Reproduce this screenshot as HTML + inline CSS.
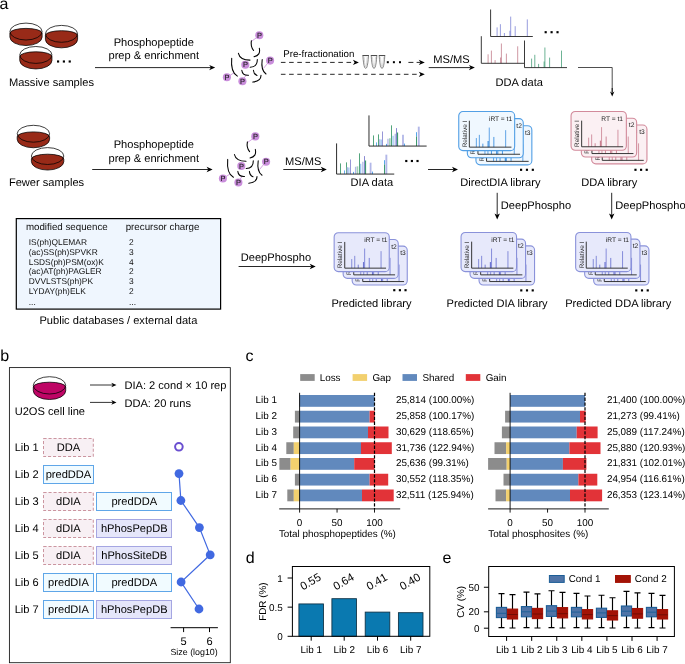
<!DOCTYPE html>
<html lang="en"><head><meta charset="utf-8"><title>DeepPhospho workflow figure</title>
<style>
html,body{margin:0;padding:0;background:#fff;}
body{width:685px;height:664px;overflow:hidden;}
svg{display:block;will-change:transform;text-rendering:geometricPrecision;font-family:"Liberation Sans", sans-serif;}
</style></head><body>
<svg width="685" height="664" viewBox="0 0 685 664">
<rect x="0" y="0" width="685" height="664" fill="#fff"/>
<text x="-0.40" y="8.90" font-size="16" text-anchor="start" fill="#000" >a</text>
<path d="M9.90,31.55 A16.1,8.45 0 0 1 42.10,31.55 V37.10 A16.1,8.45 0 0 1 9.90,37.10 Z" fill="#fff" stroke="none"/>
<path d="M9.90,33.15 A16.1,4.75 0 0 1 42.10,33.15 V37.10 A16.1,8.45 0 0 1 9.90,37.10 Z" fill="#982a18" stroke="#000" stroke-width="0.75"/>
<ellipse cx="26.00" cy="31.55" rx="16.1" ry="8.45" fill="none" stroke="#000" stroke-width="0.75"/>
<path d="M45.40,33.85 A16.1,8.45 0 0 1 77.60,33.85 V39.40 A16.1,8.45 0 0 1 45.40,39.40 Z" fill="#fff" stroke="none"/>
<path d="M45.40,35.45 A16.1,4.75 0 0 1 77.60,35.45 V39.40 A16.1,8.45 0 0 1 45.40,39.40 Z" fill="#982a18" stroke="#000" stroke-width="0.75"/>
<ellipse cx="61.50" cy="33.85" rx="16.1" ry="8.45" fill="none" stroke="#000" stroke-width="0.75"/>
<path d="M19.75,54.95 A16.1,8.45 0 0 1 51.95,54.95 V60.50 A16.1,8.45 0 0 1 19.75,60.50 Z" fill="#fff" stroke="none"/>
<path d="M19.75,56.55 A16.1,4.75 0 0 1 51.95,56.55 V60.50 A16.1,8.45 0 0 1 19.75,60.50 Z" fill="#982a18" stroke="#000" stroke-width="0.75"/>
<ellipse cx="35.85" cy="54.95" rx="16.1" ry="8.45" fill="none" stroke="#000" stroke-width="0.75"/>
<rect x="57.00" y="60.42" width="2.15" height="2.15" fill="#000"/>
<rect x="62.82" y="60.42" width="2.15" height="2.15" fill="#000"/>
<rect x="68.65" y="60.42" width="2.15" height="2.15" fill="#000"/>
<text x="8.90" y="85.80" font-size="11.1" text-anchor="start" fill="#000" >Massive samples</text>
<text x="153.80" y="45.70" font-size="11.1" text-anchor="middle" fill="#000" >Phosphopeptide</text>
<text x="153.80" y="59.00" font-size="11.1" text-anchor="middle" fill="#000" >prep &amp; enrichment</text>
<line x1="95.00" y1="67.60" x2="211.00" y2="67.60" stroke="#000" stroke-width="0.85"/>
<polygon points="215.20,67.60 209.20,70.30 210.88,67.60 209.20,64.90" fill="#000"/>
<g transform="translate(0,0)" fill="none" stroke-linecap="round">
<line x1="256.6" y1="37.7" x2="251.6" y2="41.2" stroke="#c98ddb" stroke-width="0.8"/>
<line x1="267.7" y1="63.2" x2="263.8" y2="68.0" stroke="#c98ddb" stroke-width="0.8"/>
<line x1="230.0" y1="75.4" x2="233.7" y2="73.0" stroke="#c98ddb" stroke-width="0.8"/>
<line x1="244.2" y1="77.8" x2="246.2" y2="75.2" stroke="#c98ddb" stroke-width="0.8"/>
<path d="M251.4,40.7 Q250.3,46.5 253.6,50.5" stroke="#000" stroke-width="1.05"/>
<path d="M259.3,48.2 Q260.95,55.35 254.0,56.7" stroke="#000" stroke-width="1.05"/>
<path d="M238.4,53.3 Q240.0,60.1 250.0,60.1" stroke="#000" stroke-width="1.05"/>
<path d="M231.7,58.2 Q230.45,72.25 237.4,76.1" stroke="#000" stroke-width="1.05"/>
<path d="M257.3,59.5 Q257.45,67.05 250.2,67.2" stroke="#000" stroke-width="1.05"/>
<path d="M262.2,59.5 Q260.7,70.25 266.0,74.0" stroke="#000" stroke-width="1.05"/>
<path d="M241.8,70.2 Q242.45,75.65 248.5,75.3" stroke="#000" stroke-width="1.05"/>
<path d="M253.4,70.2 Q253.8,74.35 257.0,75.5" stroke="#000" stroke-width="1.05"/>
<path d="M261.0,75.3 Q261.1,80.9 252.8,82.1" stroke="#000" stroke-width="1.05"/>
<circle cx="259.3" cy="35.2" r="4.05" fill="#c98ddb" stroke="none"/>
<text x="259.40000000000003" y="37.85" font-size="7.4" text-anchor="middle" fill="#1e1e1e" stroke="#1e1e1e" stroke-width="0.15">P</text>
<circle cx="270.1" cy="60.6" r="4.05" fill="#c98ddb" stroke="none"/>
<text x="270.20000000000005" y="63.25" font-size="7.4" text-anchor="middle" fill="#1e1e1e" stroke="#1e1e1e" stroke-width="0.15">P</text>
<circle cx="245.3" cy="64.8" r="4.05" fill="#c98ddb" stroke="none"/>
<text x="245.4" y="67.45" font-size="7.4" text-anchor="middle" fill="#1e1e1e" stroke="#1e1e1e" stroke-width="0.15">P</text>
<circle cx="226.9" cy="77.3" r="4.05" fill="#c98ddb" stroke="none"/>
<text x="227.0" y="79.95" font-size="7.4" text-anchor="middle" fill="#1e1e1e" stroke="#1e1e1e" stroke-width="0.15">P</text>
<circle cx="242.4" cy="81.3" r="4.05" fill="#c98ddb" stroke="none"/>
<text x="242.5" y="83.95" font-size="7.4" text-anchor="middle" fill="#1e1e1e" stroke="#1e1e1e" stroke-width="0.15">P</text>
</g>
<text x="283.30" y="57.00" font-size="9.7" text-anchor="start" fill="#000" >Pre-fractionation</text>
<line x1="280.90" y1="62.40" x2="354.70" y2="62.40" stroke="#000" stroke-width="0.85" stroke-dasharray="4.6 3.6"/>
<polygon points="358.90,62.40 352.90,65.00 354.58,62.40 352.90,59.80" fill="#000"/>
<line x1="280.90" y1="74.30" x2="420.60" y2="74.30" stroke="#000" stroke-width="0.85" stroke-dasharray="4.6 3.6"/>
<polygon points="424.80,74.30 418.80,76.90 420.48,74.30 418.80,71.70" fill="#000"/>
<line x1="408.40" y1="62.40" x2="420.60" y2="62.40" stroke="#000" stroke-width="0.85" stroke-dasharray="5.0 3.2"/>
<polygon points="424.80,62.40 418.80,65.00 420.48,62.40 418.80,59.80" fill="#000"/>
<path d="M362.90000000000003,55.6 C363.20000000000005,61 363.8,65.5 364.70000000000005,67.6 Q365.70000000000005,69 366.70000000000005,67.6 C367.6,65.5 368.20000000000005,61 368.5,55.6 Z" fill="#fff" stroke="#555" stroke-width="0.7"/>
<path d="M364.20000000000005,57.2 C364.40000000000003,61 364.8,64.5 365.3,66.3 Q365.70000000000005,67 366.1,66.3 C366.6,64.5 367.0,61 367.20000000000005,57.2" fill="none" stroke="#aaa" stroke-width="0.5"/>
<line x1="362.5" y1="55.5" x2="368.90000000000003" y2="55.5" stroke="#444" stroke-width="0.9"/>
<path d="M371.2,55.6 C371.5,61 372.09999999999997,65.5 373.0,67.6 Q374.0,69 375.0,67.6 C375.9,65.5 376.5,61 376.79999999999995,55.6 Z" fill="#fff" stroke="#555" stroke-width="0.7"/>
<path d="M372.5,57.2 C372.7,61 373.09999999999997,64.5 373.59999999999997,66.3 Q374.0,67 374.4,66.3 C374.9,64.5 375.29999999999995,61 375.5,57.2" fill="none" stroke="#aaa" stroke-width="0.5"/>
<line x1="370.79999999999995" y1="55.5" x2="377.2" y2="55.5" stroke="#444" stroke-width="0.9"/>
<path d="M379.2,55.6 C379.5,61 380.09999999999997,65.5 381.0,67.6 Q382.0,69 383.0,67.6 C383.9,65.5 384.5,61 384.79999999999995,55.6 Z" fill="#fff" stroke="#555" stroke-width="0.7"/>
<path d="M380.5,57.2 C380.7,61 381.09999999999997,64.5 381.59999999999997,66.3 Q382.0,67 382.4,66.3 C382.9,64.5 383.29999999999995,61 383.5,57.2" fill="none" stroke="#aaa" stroke-width="0.5"/>
<line x1="378.79999999999995" y1="55.5" x2="385.2" y2="55.5" stroke="#444" stroke-width="0.9"/>
<rect x="386.80" y="61.20" width="2.0" height="2.0" fill="#000"/>
<rect x="392.90" y="61.20" width="2.0" height="2.0" fill="#000"/>
<rect x="399.00" y="61.20" width="2.0" height="2.0" fill="#000"/>
<text x="451.50" y="62.80" font-size="11.1" text-anchor="middle" fill="#000" >MS/MS</text>
<line x1="428.70" y1="67.60" x2="470.70" y2="67.60" stroke="#000" stroke-width="0.85"/>
<polygon points="474.90,67.60 468.90,70.30 470.58,67.60 468.90,64.90" fill="#000"/>
<line x1="497.10" y1="27.40" x2="497.10" y2="36.50" stroke="#8c92da" stroke-width="0.9"/>
<line x1="500.40" y1="24.20" x2="500.40" y2="36.50" stroke="#8c92da" stroke-width="0.9"/>
<line x1="504.40" y1="33.00" x2="504.40" y2="36.50" stroke="#8c92da" stroke-width="0.9"/>
<line x1="510.00" y1="30.80" x2="510.00" y2="36.50" stroke="#8c92da" stroke-width="1.1"/>
<line x1="510.70" y1="16.60" x2="510.70" y2="36.50" stroke="#8c92da" stroke-width="0.9"/>
<line x1="515.20" y1="26.20" x2="515.20" y2="36.50" stroke="#8c92da" stroke-width="0.9"/>
<line x1="527.30" y1="19.40" x2="527.30" y2="36.50" stroke="#8c92da" stroke-width="0.9"/>
<path d="M490.60,9.50 V36.50 H532.80" fill="none" stroke="#222" stroke-width="0.9"/>
<line x1="488.10" y1="54.30" x2="488.10" y2="63.30" stroke="#ca8c99" stroke-width="0.9"/>
<line x1="491.40" y1="50.60" x2="491.40" y2="63.30" stroke="#ca8c99" stroke-width="0.9"/>
<line x1="495.10" y1="60.10" x2="495.10" y2="63.30" stroke="#ca8c99" stroke-width="0.9"/>
<line x1="500.70" y1="57.50" x2="500.70" y2="63.30" stroke="#ca8c99" stroke-width="1.1"/>
<line x1="501.40" y1="43.50" x2="501.40" y2="63.30" stroke="#ca8c99" stroke-width="0.9"/>
<line x1="506.40" y1="53.60" x2="506.40" y2="63.30" stroke="#ca8c99" stroke-width="0.9"/>
<line x1="517.70" y1="46.30" x2="517.70" y2="63.30" stroke="#ca8c99" stroke-width="0.9"/>
<path d="M481.30,36.20 V63.30 H524.20" fill="none" stroke="#222" stroke-width="0.9"/>
<line x1="531.60" y1="58.60" x2="531.60" y2="67.60" stroke="#5caa89" stroke-width="0.9"/>
<line x1="534.80" y1="54.80" x2="534.80" y2="67.60" stroke="#5caa89" stroke-width="0.9"/>
<line x1="538.60" y1="63.90" x2="538.60" y2="67.60" stroke="#5caa89" stroke-width="0.9"/>
<line x1="544.20" y1="61.50" x2="544.20" y2="67.60" stroke="#5caa89" stroke-width="1.1"/>
<line x1="544.90" y1="47.50" x2="544.90" y2="67.60" stroke="#5caa89" stroke-width="0.9"/>
<line x1="549.60" y1="57.60" x2="549.60" y2="67.60" stroke="#5caa89" stroke-width="0.9"/>
<line x1="561.50" y1="50.60" x2="561.50" y2="67.60" stroke="#5caa89" stroke-width="0.9"/>
<path d="M524.50,40.50 V67.60 H567.00" fill="none" stroke="#222" stroke-width="0.9"/>
<rect x="544.60" y="31.13" width="2.15" height="2.15" fill="#000"/>
<rect x="550.52" y="31.13" width="2.15" height="2.15" fill="#000"/>
<rect x="556.45" y="31.13" width="2.15" height="2.15" fill="#000"/>
<text x="519.20" y="85.80" font-size="11.1" text-anchor="middle" fill="#000" >DDA data</text>
<path d="M578,67.5 H612.2 V92" fill="none" stroke="#222" stroke-width="0.8"/>
<line x1="612.20" y1="88.00" x2="612.20" y2="93.10" stroke="#000" stroke-width="0.85"/>
<polygon points="612.20,96.60 610.00,91.60 612.20,93.00 614.40,91.60" fill="#000"/>
<path d="M17.20,133.75 A16.2,8.45 0 0 1 49.60,133.75 V139.30 A16.2,8.45 0 0 1 17.20,139.30 Z" fill="#fff" stroke="none"/>
<path d="M17.20,136.75 A16.2,4.85 0 0 1 49.60,136.75 V139.30 A16.2,8.45 0 0 1 17.20,139.30 Z" fill="#982a18" stroke="#000" stroke-width="0.75"/>
<ellipse cx="33.40" cy="133.75" rx="16.2" ry="8.45" fill="none" stroke="#000" stroke-width="0.75"/>
<path d="M31.40,156.05 A16.2,8.45 0 0 1 63.80,156.05 V161.60 A16.2,8.45 0 0 1 31.40,161.60 Z" fill="#fff" stroke="none"/>
<path d="M31.40,159.05 A16.2,4.85 0 0 1 63.80,159.05 V161.60 A16.2,8.45 0 0 1 31.40,161.60 Z" fill="#982a18" stroke="#000" stroke-width="0.75"/>
<ellipse cx="47.60" cy="156.05" rx="16.2" ry="8.45" fill="none" stroke="#000" stroke-width="0.75"/>
<text x="8.90" y="185.80" font-size="11.1" text-anchor="start" fill="#000" >Fewer samples</text>
<text x="153.80" y="148.20" font-size="11.1" text-anchor="middle" fill="#000" >Phosphopeptide</text>
<text x="153.80" y="161.80" font-size="11.1" text-anchor="middle" fill="#000" >prep &amp; enrichment</text>
<line x1="92.20" y1="169.50" x2="208.40" y2="169.50" stroke="#000" stroke-width="0.85"/>
<polygon points="212.60,169.50 206.60,172.20 208.28,169.50 206.60,166.80" fill="#000"/>
<g transform="translate(-4,101.2)" fill="none" stroke-linecap="round">
<line x1="256.6" y1="37.7" x2="251.6" y2="41.2" stroke="#c98ddb" stroke-width="0.8"/>
<line x1="267.7" y1="63.2" x2="263.8" y2="68.0" stroke="#c98ddb" stroke-width="0.8"/>
<line x1="230.0" y1="75.4" x2="233.7" y2="73.0" stroke="#c98ddb" stroke-width="0.8"/>
<line x1="244.2" y1="77.8" x2="246.2" y2="75.2" stroke="#c98ddb" stroke-width="0.8"/>
<path d="M251.4,40.7 Q250.3,46.5 253.6,50.5" stroke="#000" stroke-width="1.05"/>
<path d="M259.3,48.2 Q260.95,55.35 254.0,56.7" stroke="#000" stroke-width="1.05"/>
<path d="M238.4,53.3 Q240.0,60.1 250.0,60.1" stroke="#000" stroke-width="1.05"/>
<path d="M231.7,58.2 Q230.45,72.25 237.4,76.1" stroke="#000" stroke-width="1.05"/>
<path d="M257.3,59.5 Q257.45,67.05 250.2,67.2" stroke="#000" stroke-width="1.05"/>
<path d="M262.2,59.5 Q260.7,70.25 266.0,74.0" stroke="#000" stroke-width="1.05"/>
<path d="M241.8,70.2 Q242.45,75.65 248.5,75.3" stroke="#000" stroke-width="1.05"/>
<path d="M253.4,70.2 Q253.8,74.35 257.0,75.5" stroke="#000" stroke-width="1.05"/>
<path d="M261.0,75.3 Q261.1,80.9 252.8,82.1" stroke="#000" stroke-width="1.05"/>
<circle cx="259.3" cy="35.2" r="4.05" fill="#c98ddb" stroke="none"/>
<text x="259.40000000000003" y="37.85" font-size="7.4" text-anchor="middle" fill="#1e1e1e" stroke="#1e1e1e" stroke-width="0.15">P</text>
<circle cx="270.1" cy="60.6" r="4.05" fill="#c98ddb" stroke="none"/>
<text x="270.20000000000005" y="63.25" font-size="7.4" text-anchor="middle" fill="#1e1e1e" stroke="#1e1e1e" stroke-width="0.15">P</text>
<circle cx="245.3" cy="64.8" r="4.05" fill="#c98ddb" stroke="none"/>
<text x="245.4" y="67.45" font-size="7.4" text-anchor="middle" fill="#1e1e1e" stroke="#1e1e1e" stroke-width="0.15">P</text>
<circle cx="226.9" cy="77.3" r="4.05" fill="#c98ddb" stroke="none"/>
<text x="227.0" y="79.95" font-size="7.4" text-anchor="middle" fill="#1e1e1e" stroke="#1e1e1e" stroke-width="0.15">P</text>
<circle cx="242.4" cy="81.3" r="4.05" fill="#c98ddb" stroke="none"/>
<text x="242.5" y="83.95" font-size="7.4" text-anchor="middle" fill="#1e1e1e" stroke="#1e1e1e" stroke-width="0.15">P</text>
</g>
<text x="303.30" y="164.70" font-size="11.1" text-anchor="middle" fill="#000" >MS/MS</text>
<line x1="283.30" y1="169.50" x2="322.60" y2="169.50" stroke="#000" stroke-width="0.85"/>
<polygon points="326.80,169.50 320.80,172.20 322.48,169.50 320.80,166.80" fill="#000"/>
<line x1="373.50" y1="135.41" x2="373.50" y2="146.07" stroke="#3f9b6e" stroke-width="0.9"/>
<line x1="376.50" y1="142.42" x2="376.50" y2="146.07" stroke="#58a6ea" stroke-width="0.9"/>
<line x1="378.50" y1="134.39" x2="378.50" y2="146.07" stroke="#3f9b6e" stroke-width="0.9"/>
<line x1="379.78" y1="139.21" x2="379.78" y2="146.07" stroke="#b2b7e8" stroke-width="1.3"/>
<line x1="381.24" y1="139.50" x2="381.24" y2="146.07" stroke="#9fc8f0" stroke-width="1.3"/>
<line x1="382.50" y1="131.47" x2="382.50" y2="146.07" stroke="#8b8ad2" stroke-width="0.9"/>
<line x1="386.50" y1="143.88" x2="386.50" y2="146.07" stroke="#58a6ea" stroke-width="1.0"/>
<line x1="387.96" y1="138.77" x2="387.96" y2="146.07" stroke="#b2b7e8" stroke-width="1.3"/>
<line x1="389.85" y1="138.33" x2="389.85" y2="146.07" stroke="#a2ceb6" stroke-width="1.6"/>
<line x1="391.50" y1="125.34" x2="391.50" y2="146.07" stroke="#3f9b6e" stroke-width="0.9"/>
<line x1="393.07" y1="135.85" x2="393.07" y2="146.07" stroke="#9fc8f0" stroke-width="1.3"/>
<line x1="395.26" y1="133.66" x2="395.26" y2="146.07" stroke="#b2b7e8" stroke-width="1.3"/>
<line x1="396.50" y1="128.11" x2="396.50" y2="146.07" stroke="#8b8ad2" stroke-width="1.0"/>
<line x1="397.50" y1="132.49" x2="397.50" y2="146.07" stroke="#3f9b6e" stroke-width="1.2"/>
<line x1="402.99" y1="134.68" x2="402.99" y2="146.07" stroke="#b2b7e8" stroke-width="1.8"/>
<line x1="404.50" y1="143.58" x2="404.50" y2="146.07" stroke="#58a6ea" stroke-width="1.0"/>
<line x1="416.50" y1="136.29" x2="416.50" y2="146.07" stroke="#3f9b6e" stroke-width="1.0"/>
<line x1="418.76" y1="126.65" x2="418.76" y2="146.07" stroke="#b2b7e8" stroke-width="1.9"/>
<line x1="416.50" y1="132.20" x2="416.50" y2="136.29" stroke="#58a6ea" stroke-width="1.0"/>
<path d="M368.98,115.41 V146.07 H426.64" fill="none" stroke="#222" stroke-width="0.95"/>
<line x1="340.50" y1="163.41" x2="340.50" y2="174.07" stroke="#3f9b6e" stroke-width="0.9"/>
<line x1="344.50" y1="170.42" x2="344.50" y2="174.07" stroke="#58a6ea" stroke-width="0.9"/>
<line x1="346.50" y1="162.39" x2="346.50" y2="174.07" stroke="#3f9b6e" stroke-width="0.9"/>
<line x1="347.38" y1="167.21" x2="347.38" y2="174.07" stroke="#b2b7e8" stroke-width="1.3"/>
<line x1="348.84" y1="167.50" x2="348.84" y2="174.07" stroke="#9fc8f0" stroke-width="1.3"/>
<line x1="350.50" y1="159.47" x2="350.50" y2="174.07" stroke="#8b8ad2" stroke-width="0.9"/>
<line x1="353.50" y1="171.88" x2="353.50" y2="174.07" stroke="#58a6ea" stroke-width="1.0"/>
<line x1="355.56" y1="166.77" x2="355.56" y2="174.07" stroke="#b2b7e8" stroke-width="1.3"/>
<line x1="357.45" y1="166.33" x2="357.45" y2="174.07" stroke="#a2ceb6" stroke-width="1.6"/>
<line x1="359.50" y1="153.34" x2="359.50" y2="174.07" stroke="#3f9b6e" stroke-width="0.9"/>
<line x1="360.67" y1="163.85" x2="360.67" y2="174.07" stroke="#9fc8f0" stroke-width="1.3"/>
<line x1="362.86" y1="161.66" x2="362.86" y2="174.07" stroke="#b2b7e8" stroke-width="1.3"/>
<line x1="364.50" y1="156.11" x2="364.50" y2="174.07" stroke="#8b8ad2" stroke-width="1.0"/>
<line x1="365.50" y1="160.49" x2="365.50" y2="174.07" stroke="#3f9b6e" stroke-width="1.2"/>
<line x1="370.59" y1="162.68" x2="370.59" y2="174.07" stroke="#b2b7e8" stroke-width="1.8"/>
<line x1="372.50" y1="171.58" x2="372.50" y2="174.07" stroke="#58a6ea" stroke-width="1.0"/>
<line x1="384.50" y1="164.29" x2="384.50" y2="174.07" stroke="#3f9b6e" stroke-width="1.0"/>
<line x1="386.36" y1="154.65" x2="386.36" y2="174.07" stroke="#b2b7e8" stroke-width="1.9"/>
<line x1="384.50" y1="160.20" x2="384.50" y2="164.29" stroke="#58a6ea" stroke-width="1.0"/>
<path d="M336.58,143.41 V174.07 H394.24" fill="none" stroke="#222" stroke-width="0.95"/>
<rect x="405.20" y="159.93" width="2.15" height="2.15" fill="#000"/>
<rect x="410.82" y="159.93" width="2.15" height="2.15" fill="#000"/>
<rect x="416.45" y="159.93" width="2.15" height="2.15" fill="#000"/>
<text x="371.90" y="185.80" font-size="11.1" text-anchor="middle" fill="#000" >DIA data</text>
<line x1="428.00" y1="169.50" x2="453.80" y2="169.50" stroke="#000" stroke-width="0.85"/>
<polygon points="458.00,169.50 452.00,172.20 453.68,169.50 452.00,166.80" fill="#000"/>
<g transform="translate(475.95,125.75)">
<rect x="0" y="0" width="55.90" height="39.10" rx="4.2" ry="4.2" fill="#f0f8ff" stroke="#529fe5" stroke-width="1.1"/>
<text transform="translate(7.9,35.80) rotate(-90)" font-size="6.4" fill="#222">Relative I</text>
<line x1="17.60" y1="26.50" x2="17.60" y2="35.60" stroke="#3c8fdf" stroke-width="0.8"/>
<line x1="20.60" y1="23.30" x2="20.60" y2="35.60" stroke="#3c8fdf" stroke-width="0.8"/>
<line x1="24.10" y1="32.10" x2="24.10" y2="35.60" stroke="#3c8fdf" stroke-width="0.9"/>
<line x1="29.40" y1="29.50" x2="29.40" y2="35.60" stroke="#3c8fdf" stroke-width="1.2"/>
<line x1="30.50" y1="16.00" x2="30.50" y2="35.60" stroke="#3c8fdf" stroke-width="0.8"/>
<line x1="35.10" y1="25.40" x2="35.10" y2="35.60" stroke="#3c8fdf" stroke-width="0.9"/>
<line x1="46.90" y1="18.60" x2="46.90" y2="35.60" stroke="#3c8fdf" stroke-width="0.8"/>
<path d="M10.6,9.2 V35.60 H52.70" fill="none" stroke="#222" stroke-width="0.9"/>
<text x="31.3" y="9.1" font-size="6.65" fill="#222">iRT = t3</text>
</g>
<g transform="translate(467.35,118.65)">
<rect x="0" y="0" width="55.90" height="39.10" rx="4.2" ry="4.2" fill="#f0f8ff" stroke="#529fe5" stroke-width="1.1"/>
<text transform="translate(7.9,35.80) rotate(-90)" font-size="6.4" fill="#222">Relative I</text>
<line x1="17.60" y1="26.50" x2="17.60" y2="35.60" stroke="#3c8fdf" stroke-width="0.8"/>
<line x1="20.60" y1="23.30" x2="20.60" y2="35.60" stroke="#3c8fdf" stroke-width="0.8"/>
<line x1="24.10" y1="32.10" x2="24.10" y2="35.60" stroke="#3c8fdf" stroke-width="0.9"/>
<line x1="29.40" y1="29.50" x2="29.40" y2="35.60" stroke="#3c8fdf" stroke-width="1.2"/>
<line x1="30.50" y1="16.00" x2="30.50" y2="35.60" stroke="#3c8fdf" stroke-width="0.8"/>
<line x1="35.10" y1="25.40" x2="35.10" y2="35.60" stroke="#3c8fdf" stroke-width="0.9"/>
<line x1="46.90" y1="18.60" x2="46.90" y2="35.60" stroke="#3c8fdf" stroke-width="0.8"/>
<path d="M10.6,9.2 V35.60 H52.70" fill="none" stroke="#222" stroke-width="0.9"/>
<text x="31.3" y="9.1" font-size="6.65" fill="#222">iRT = t2</text>
</g>
<g transform="translate(458.75,111.55)">
<rect x="0" y="0" width="55.90" height="39.10" rx="4.2" ry="4.2" fill="#f0f8ff" stroke="#529fe5" stroke-width="1.1"/>
<text transform="translate(7.9,35.80) rotate(-90)" font-size="6.4" fill="#222">Relative I</text>
<line x1="17.60" y1="26.50" x2="17.60" y2="35.60" stroke="#3c8fdf" stroke-width="0.8"/>
<line x1="20.60" y1="23.30" x2="20.60" y2="35.60" stroke="#3c8fdf" stroke-width="0.8"/>
<line x1="24.10" y1="32.10" x2="24.10" y2="35.60" stroke="#3c8fdf" stroke-width="0.9"/>
<line x1="29.40" y1="29.50" x2="29.40" y2="35.60" stroke="#3c8fdf" stroke-width="1.2"/>
<line x1="30.50" y1="16.00" x2="30.50" y2="35.60" stroke="#3c8fdf" stroke-width="0.8"/>
<line x1="35.10" y1="25.40" x2="35.10" y2="35.60" stroke="#3c8fdf" stroke-width="0.9"/>
<line x1="46.90" y1="18.60" x2="46.90" y2="35.60" stroke="#3c8fdf" stroke-width="0.8"/>
<path d="M10.6,9.2 V35.60 H52.70" fill="none" stroke="#222" stroke-width="0.9"/>
<text x="30.2" y="9.1" font-size="6.65" fill="#222">iRT = t1</text>
</g>
<rect x="520.00" y="168.73" width="2.15" height="2.15" fill="#000"/>
<rect x="525.88" y="168.73" width="2.15" height="2.15" fill="#000"/>
<rect x="531.75" y="168.73" width="2.15" height="2.15" fill="#000"/>
<text x="500.40" y="186.20" font-size="11.1" text-anchor="middle" fill="#000" >DirectDIA library</text>
<g transform="translate(591.65,125.05)">
<rect x="0" y="0" width="55.30" height="38.80" rx="4.2" ry="4.2" fill="#fbf0f3" stroke="#d28a9b" stroke-width="1.1"/>
<text transform="translate(7.9,35.50) rotate(-90)" font-size="6.4" fill="#222">Relative I</text>
<line x1="17.60" y1="26.20" x2="17.60" y2="35.30" stroke="#c97f90" stroke-width="0.8"/>
<line x1="20.60" y1="23.00" x2="20.60" y2="35.30" stroke="#c97f90" stroke-width="0.8"/>
<line x1="24.10" y1="31.80" x2="24.10" y2="35.30" stroke="#c97f90" stroke-width="0.9"/>
<line x1="29.40" y1="29.20" x2="29.40" y2="35.30" stroke="#c97f90" stroke-width="1.2"/>
<line x1="30.50" y1="15.70" x2="30.50" y2="35.30" stroke="#c97f90" stroke-width="0.8"/>
<line x1="35.10" y1="25.10" x2="35.10" y2="35.30" stroke="#c97f90" stroke-width="0.9"/>
<line x1="46.90" y1="18.30" x2="46.90" y2="35.30" stroke="#c97f90" stroke-width="0.8"/>
<path d="M10.6,9.2 V35.30 H52.10" fill="none" stroke="#222" stroke-width="0.9"/>
<text x="31.3" y="9.1" font-size="6.65" fill="#222">RT = t3</text>
</g>
<g transform="translate(581.35,118.25)">
<rect x="0" y="0" width="55.30" height="38.80" rx="4.2" ry="4.2" fill="#fbf0f3" stroke="#d28a9b" stroke-width="1.1"/>
<text transform="translate(7.9,35.50) rotate(-90)" font-size="6.4" fill="#222">Relative I</text>
<line x1="17.60" y1="26.20" x2="17.60" y2="35.30" stroke="#c97f90" stroke-width="0.8"/>
<line x1="20.60" y1="23.00" x2="20.60" y2="35.30" stroke="#c97f90" stroke-width="0.8"/>
<line x1="24.10" y1="31.80" x2="24.10" y2="35.30" stroke="#c97f90" stroke-width="0.9"/>
<line x1="29.40" y1="29.20" x2="29.40" y2="35.30" stroke="#c97f90" stroke-width="1.2"/>
<line x1="30.50" y1="15.70" x2="30.50" y2="35.30" stroke="#c97f90" stroke-width="0.8"/>
<line x1="35.10" y1="25.10" x2="35.10" y2="35.30" stroke="#c97f90" stroke-width="0.9"/>
<line x1="46.90" y1="18.30" x2="46.90" y2="35.30" stroke="#c97f90" stroke-width="0.8"/>
<path d="M10.6,9.2 V35.30 H52.10" fill="none" stroke="#222" stroke-width="0.9"/>
<text x="31.3" y="9.1" font-size="6.65" fill="#222">RT = t2</text>
</g>
<g transform="translate(571.05,111.45)">
<rect x="0" y="0" width="55.30" height="38.80" rx="4.2" ry="4.2" fill="#fbf0f3" stroke="#d28a9b" stroke-width="1.1"/>
<text transform="translate(7.9,35.50) rotate(-90)" font-size="6.4" fill="#222">Relative I</text>
<line x1="17.60" y1="26.20" x2="17.60" y2="35.30" stroke="#c97f90" stroke-width="0.8"/>
<line x1="20.60" y1="23.00" x2="20.60" y2="35.30" stroke="#c97f90" stroke-width="0.8"/>
<line x1="24.10" y1="31.80" x2="24.10" y2="35.30" stroke="#c97f90" stroke-width="0.9"/>
<line x1="29.40" y1="29.20" x2="29.40" y2="35.30" stroke="#c97f90" stroke-width="1.2"/>
<line x1="30.50" y1="15.70" x2="30.50" y2="35.30" stroke="#c97f90" stroke-width="0.8"/>
<line x1="35.10" y1="25.10" x2="35.10" y2="35.30" stroke="#c97f90" stroke-width="0.9"/>
<line x1="46.90" y1="18.30" x2="46.90" y2="35.30" stroke="#c97f90" stroke-width="0.8"/>
<path d="M10.6,9.2 V35.30 H52.10" fill="none" stroke="#222" stroke-width="0.9"/>
<text x="30.2" y="9.1" font-size="6.65" fill="#222">RT = t1</text>
</g>
<rect x="634.40" y="168.73" width="2.15" height="2.15" fill="#000"/>
<rect x="640.02" y="168.73" width="2.15" height="2.15" fill="#000"/>
<rect x="645.65" y="168.73" width="2.15" height="2.15" fill="#000"/>
<text x="609.30" y="186.20" font-size="11.1" text-anchor="middle" fill="#000" >DDA library</text>
<line x1="497.20" y1="192.80" x2="497.20" y2="215.20" stroke="#000" stroke-width="0.85"/>
<polygon points="497.20,219.40 494.50,213.40 497.20,215.08 499.90,213.40" fill="#000"/>
<text x="500.80" y="208.50" font-size="11.1" text-anchor="start" fill="#000" >DeepPhospho</text>
<line x1="611.70" y1="192.80" x2="611.70" y2="215.20" stroke="#000" stroke-width="0.85"/>
<polygon points="611.70,219.40 609.00,213.40 611.70,215.08 614.40,213.40" fill="#000"/>
<text x="615.30" y="208.50" font-size="11.1" text-anchor="start" fill="#000" >DeepPhospho</text>
<rect x="16.3" y="218.6" width="204.3" height="90.5" fill="#eff6fe" stroke="#000" stroke-width="1.2"/>
<text x="25.90" y="230.00" font-size="9.75" text-anchor="start" fill="#111" >modified sequence</text>
<text x="125.70" y="230.00" font-size="9.75" text-anchor="start" fill="#111" >precursor charge</text>
<text x="28.80" y="244.80" font-size="8.4" text-anchor="start" fill="#111" >IS(ph)QLEMAR</text>
<text x="129.00" y="244.80" font-size="8.4" text-anchor="start" fill="#111" >2</text>
<text x="28.80" y="254.68" font-size="8.4" text-anchor="start" fill="#111" >(ac)SS(ph)SPVKR</text>
<text x="129.00" y="254.68" font-size="8.4" text-anchor="start" fill="#111" >3</text>
<text x="28.80" y="264.56" font-size="8.4" text-anchor="start" fill="#111" >LSDS(ph)PSM(ox)K</text>
<text x="129.00" y="264.56" font-size="8.4" text-anchor="start" fill="#111" >4</text>
<text x="28.80" y="274.44" font-size="8.4" text-anchor="start" fill="#111" >(ac)AT(ph)PAGLER</text>
<text x="129.00" y="274.44" font-size="8.4" text-anchor="start" fill="#111" >2</text>
<text x="28.80" y="284.32" font-size="8.4" text-anchor="start" fill="#111" >DVVLSTS(ph)PK</text>
<text x="129.00" y="284.32" font-size="8.4" text-anchor="start" fill="#111" >3</text>
<text x="28.80" y="294.20" font-size="8.4" text-anchor="start" fill="#111" >LYDAY(ph)ELK</text>
<text x="129.00" y="294.20" font-size="8.4" text-anchor="start" fill="#111" >2</text>
<text x="28.80" y="305.08" font-size="8.4" text-anchor="start" fill="#111" >...</text>
<text x="129.00" y="305.08" font-size="8.4" text-anchor="start" fill="#111" >...</text>
<text x="118.40" y="323.50" font-size="11.1" text-anchor="middle" fill="#000" >Public databases / external data</text>
<text x="275.90" y="261.30" font-size="11.1" text-anchor="middle" fill="#000" >DeepPhospho</text>
<line x1="238.60" y1="266.50" x2="311.50" y2="266.50" stroke="#000" stroke-width="0.85"/>
<polygon points="315.70,266.50 309.70,269.20 311.38,266.50 309.70,263.80" fill="#000"/>
<g transform="translate(352.15,246.15)">
<rect x="0" y="0" width="55.10" height="38.90" rx="4.2" ry="4.2" fill="#e7e9fb" stroke="#8a92da" stroke-width="1.1"/>
<text transform="translate(7.9,35.60) rotate(-90)" font-size="6.4" fill="#222">Relative I</text>
<line x1="17.60" y1="26.30" x2="17.60" y2="35.40" stroke="#6d75d2" stroke-width="0.8"/>
<line x1="20.60" y1="23.10" x2="20.60" y2="35.40" stroke="#6d75d2" stroke-width="0.8"/>
<line x1="24.10" y1="31.90" x2="24.10" y2="35.40" stroke="#6d75d2" stroke-width="0.9"/>
<line x1="29.40" y1="29.30" x2="29.40" y2="35.40" stroke="#6d75d2" stroke-width="1.2"/>
<line x1="30.50" y1="15.80" x2="30.50" y2="35.40" stroke="#6d75d2" stroke-width="0.8"/>
<line x1="35.10" y1="25.20" x2="35.10" y2="35.40" stroke="#6d75d2" stroke-width="0.9"/>
<line x1="46.90" y1="18.40" x2="46.90" y2="35.40" stroke="#6d75d2" stroke-width="0.8"/>
<path d="M10.6,9.2 V35.40 H51.90" fill="none" stroke="#222" stroke-width="0.9"/>
<text x="30.4" y="9.1" font-size="6.65" fill="#222">iRT = t3</text>
</g>
<g transform="translate(343.15,239.45)">
<rect x="0" y="0" width="55.10" height="38.90" rx="4.2" ry="4.2" fill="#e7e9fb" stroke="#8a92da" stroke-width="1.1"/>
<text transform="translate(7.9,35.60) rotate(-90)" font-size="6.4" fill="#222">Relative I</text>
<line x1="17.60" y1="26.30" x2="17.60" y2="35.40" stroke="#6d75d2" stroke-width="0.8"/>
<line x1="20.60" y1="23.10" x2="20.60" y2="35.40" stroke="#6d75d2" stroke-width="0.8"/>
<line x1="24.10" y1="31.90" x2="24.10" y2="35.40" stroke="#6d75d2" stroke-width="0.9"/>
<line x1="29.40" y1="29.30" x2="29.40" y2="35.40" stroke="#6d75d2" stroke-width="1.2"/>
<line x1="30.50" y1="15.80" x2="30.50" y2="35.40" stroke="#6d75d2" stroke-width="0.8"/>
<line x1="35.10" y1="25.20" x2="35.10" y2="35.40" stroke="#6d75d2" stroke-width="0.9"/>
<line x1="46.90" y1="18.40" x2="46.90" y2="35.40" stroke="#6d75d2" stroke-width="0.8"/>
<path d="M10.6,9.2 V35.40 H51.90" fill="none" stroke="#222" stroke-width="0.9"/>
<text x="30.4" y="9.1" font-size="6.65" fill="#222">iRT = t2</text>
</g>
<g transform="translate(334.15,232.75)">
<rect x="0" y="0" width="55.10" height="38.90" rx="4.2" ry="4.2" fill="#e7e9fb" stroke="#8a92da" stroke-width="1.1"/>
<text transform="translate(7.9,35.60) rotate(-90)" font-size="6.4" fill="#222">Relative I</text>
<line x1="17.60" y1="26.30" x2="17.60" y2="35.40" stroke="#6d75d2" stroke-width="0.8"/>
<line x1="20.60" y1="23.10" x2="20.60" y2="35.40" stroke="#6d75d2" stroke-width="0.8"/>
<line x1="24.10" y1="31.90" x2="24.10" y2="35.40" stroke="#6d75d2" stroke-width="0.9"/>
<line x1="29.40" y1="29.30" x2="29.40" y2="35.40" stroke="#6d75d2" stroke-width="1.2"/>
<line x1="30.50" y1="15.80" x2="30.50" y2="35.40" stroke="#6d75d2" stroke-width="0.8"/>
<line x1="35.10" y1="25.20" x2="35.10" y2="35.40" stroke="#6d75d2" stroke-width="0.9"/>
<line x1="46.90" y1="18.40" x2="46.90" y2="35.40" stroke="#6d75d2" stroke-width="0.8"/>
<path d="M10.6,9.2 V35.40 H51.90" fill="none" stroke="#222" stroke-width="0.9"/>
<text x="30.2" y="9.1" font-size="6.65" fill="#222">iRT = t1</text>
</g>
<rect x="393.20" y="289.12" width="2.15" height="2.15" fill="#000"/>
<rect x="398.82" y="289.12" width="2.15" height="2.15" fill="#000"/>
<rect x="404.45" y="289.12" width="2.15" height="2.15" fill="#000"/>
<text x="371.50" y="307.00" font-size="11.1" text-anchor="middle" fill="#000" >Predicted library</text>
<g transform="translate(479.05,245.85)">
<rect x="0" y="0" width="55.50" height="39.20" rx="4.2" ry="4.2" fill="#e7e9fb" stroke="#8a92da" stroke-width="1.1"/>
<text transform="translate(7.9,35.90) rotate(-90)" font-size="6.4" fill="#222">Relative I</text>
<line x1="17.60" y1="26.60" x2="17.60" y2="35.70" stroke="#6d75d2" stroke-width="0.8"/>
<line x1="20.60" y1="23.40" x2="20.60" y2="35.70" stroke="#6d75d2" stroke-width="0.8"/>
<line x1="24.10" y1="32.20" x2="24.10" y2="35.70" stroke="#6d75d2" stroke-width="0.9"/>
<line x1="29.40" y1="29.60" x2="29.40" y2="35.70" stroke="#6d75d2" stroke-width="1.2"/>
<line x1="30.50" y1="16.10" x2="30.50" y2="35.70" stroke="#6d75d2" stroke-width="0.8"/>
<line x1="35.10" y1="25.50" x2="35.10" y2="35.70" stroke="#6d75d2" stroke-width="0.9"/>
<line x1="46.90" y1="18.70" x2="46.90" y2="35.70" stroke="#6d75d2" stroke-width="0.8"/>
<path d="M10.6,9.2 V35.70 H52.30" fill="none" stroke="#222" stroke-width="0.9"/>
<text x="30.4" y="9.1" font-size="6.65" fill="#222">iRT = t3</text>
</g>
<g transform="translate(470.05,239.15)">
<rect x="0" y="0" width="55.50" height="39.20" rx="4.2" ry="4.2" fill="#e7e9fb" stroke="#8a92da" stroke-width="1.1"/>
<text transform="translate(7.9,35.90) rotate(-90)" font-size="6.4" fill="#222">Relative I</text>
<line x1="17.60" y1="26.60" x2="17.60" y2="35.70" stroke="#6d75d2" stroke-width="0.8"/>
<line x1="20.60" y1="23.40" x2="20.60" y2="35.70" stroke="#6d75d2" stroke-width="0.8"/>
<line x1="24.10" y1="32.20" x2="24.10" y2="35.70" stroke="#6d75d2" stroke-width="0.9"/>
<line x1="29.40" y1="29.60" x2="29.40" y2="35.70" stroke="#6d75d2" stroke-width="1.2"/>
<line x1="30.50" y1="16.10" x2="30.50" y2="35.70" stroke="#6d75d2" stroke-width="0.8"/>
<line x1="35.10" y1="25.50" x2="35.10" y2="35.70" stroke="#6d75d2" stroke-width="0.9"/>
<line x1="46.90" y1="18.70" x2="46.90" y2="35.70" stroke="#6d75d2" stroke-width="0.8"/>
<path d="M10.6,9.2 V35.70 H52.30" fill="none" stroke="#222" stroke-width="0.9"/>
<text x="30.4" y="9.1" font-size="6.65" fill="#222">iRT = t2</text>
</g>
<g transform="translate(461.05,232.45)">
<rect x="0" y="0" width="55.50" height="39.20" rx="4.2" ry="4.2" fill="#e7e9fb" stroke="#8a92da" stroke-width="1.1"/>
<text transform="translate(7.9,35.90) rotate(-90)" font-size="6.4" fill="#222">Relative I</text>
<line x1="17.60" y1="26.60" x2="17.60" y2="35.70" stroke="#6d75d2" stroke-width="0.8"/>
<line x1="20.60" y1="23.40" x2="20.60" y2="35.70" stroke="#6d75d2" stroke-width="0.8"/>
<line x1="24.10" y1="32.20" x2="24.10" y2="35.70" stroke="#6d75d2" stroke-width="0.9"/>
<line x1="29.40" y1="29.60" x2="29.40" y2="35.70" stroke="#6d75d2" stroke-width="1.2"/>
<line x1="30.50" y1="16.10" x2="30.50" y2="35.70" stroke="#6d75d2" stroke-width="0.8"/>
<line x1="35.10" y1="25.50" x2="35.10" y2="35.70" stroke="#6d75d2" stroke-width="0.9"/>
<line x1="46.90" y1="18.70" x2="46.90" y2="35.70" stroke="#6d75d2" stroke-width="0.8"/>
<path d="M10.6,9.2 V35.70 H52.30" fill="none" stroke="#222" stroke-width="0.9"/>
<text x="30.2" y="9.1" font-size="6.65" fill="#222">iRT = t1</text>
</g>
<rect x="520.20" y="289.32" width="2.15" height="2.15" fill="#000"/>
<rect x="525.92" y="289.32" width="2.15" height="2.15" fill="#000"/>
<rect x="531.65" y="289.32" width="2.15" height="2.15" fill="#000"/>
<text x="497.10" y="307.00" font-size="11.1" text-anchor="middle" fill="#000" >Predicted DIA library</text>
<g transform="translate(593.65,245.85)">
<rect x="0" y="0" width="55.30" height="39.20" rx="4.2" ry="4.2" fill="#e7e9fb" stroke="#8a92da" stroke-width="1.1"/>
<text transform="translate(7.9,35.90) rotate(-90)" font-size="6.4" fill="#222">Relative I</text>
<line x1="17.60" y1="26.60" x2="17.60" y2="35.70" stroke="#6d75d2" stroke-width="0.8"/>
<line x1="20.60" y1="23.40" x2="20.60" y2="35.70" stroke="#6d75d2" stroke-width="0.8"/>
<line x1="24.10" y1="32.20" x2="24.10" y2="35.70" stroke="#6d75d2" stroke-width="0.9"/>
<line x1="29.40" y1="29.60" x2="29.40" y2="35.70" stroke="#6d75d2" stroke-width="1.2"/>
<line x1="30.50" y1="16.10" x2="30.50" y2="35.70" stroke="#6d75d2" stroke-width="0.8"/>
<line x1="35.10" y1="25.50" x2="35.10" y2="35.70" stroke="#6d75d2" stroke-width="0.9"/>
<line x1="46.90" y1="18.70" x2="46.90" y2="35.70" stroke="#6d75d2" stroke-width="0.8"/>
<path d="M10.6,9.2 V35.70 H52.10" fill="none" stroke="#222" stroke-width="0.9"/>
<text x="30.4" y="9.1" font-size="6.65" fill="#222">iRT = t3</text>
</g>
<g transform="translate(584.65,239.15)">
<rect x="0" y="0" width="55.30" height="39.20" rx="4.2" ry="4.2" fill="#e7e9fb" stroke="#8a92da" stroke-width="1.1"/>
<text transform="translate(7.9,35.90) rotate(-90)" font-size="6.4" fill="#222">Relative I</text>
<line x1="17.60" y1="26.60" x2="17.60" y2="35.70" stroke="#6d75d2" stroke-width="0.8"/>
<line x1="20.60" y1="23.40" x2="20.60" y2="35.70" stroke="#6d75d2" stroke-width="0.8"/>
<line x1="24.10" y1="32.20" x2="24.10" y2="35.70" stroke="#6d75d2" stroke-width="0.9"/>
<line x1="29.40" y1="29.60" x2="29.40" y2="35.70" stroke="#6d75d2" stroke-width="1.2"/>
<line x1="30.50" y1="16.10" x2="30.50" y2="35.70" stroke="#6d75d2" stroke-width="0.8"/>
<line x1="35.10" y1="25.50" x2="35.10" y2="35.70" stroke="#6d75d2" stroke-width="0.9"/>
<line x1="46.90" y1="18.70" x2="46.90" y2="35.70" stroke="#6d75d2" stroke-width="0.8"/>
<path d="M10.6,9.2 V35.70 H52.10" fill="none" stroke="#222" stroke-width="0.9"/>
<text x="30.4" y="9.1" font-size="6.65" fill="#222">iRT = t2</text>
</g>
<g transform="translate(575.65,232.45)">
<rect x="0" y="0" width="55.30" height="39.20" rx="4.2" ry="4.2" fill="#e7e9fb" stroke="#8a92da" stroke-width="1.1"/>
<text transform="translate(7.9,35.90) rotate(-90)" font-size="6.4" fill="#222">Relative I</text>
<line x1="17.60" y1="26.60" x2="17.60" y2="35.70" stroke="#6d75d2" stroke-width="0.8"/>
<line x1="20.60" y1="23.40" x2="20.60" y2="35.70" stroke="#6d75d2" stroke-width="0.8"/>
<line x1="24.10" y1="32.20" x2="24.10" y2="35.70" stroke="#6d75d2" stroke-width="0.9"/>
<line x1="29.40" y1="29.60" x2="29.40" y2="35.70" stroke="#6d75d2" stroke-width="1.2"/>
<line x1="30.50" y1="16.10" x2="30.50" y2="35.70" stroke="#6d75d2" stroke-width="0.8"/>
<line x1="35.10" y1="25.50" x2="35.10" y2="35.70" stroke="#6d75d2" stroke-width="0.9"/>
<line x1="46.90" y1="18.70" x2="46.90" y2="35.70" stroke="#6d75d2" stroke-width="0.8"/>
<path d="M10.6,9.2 V35.70 H52.10" fill="none" stroke="#222" stroke-width="0.9"/>
<text x="30.2" y="9.1" font-size="6.65" fill="#222">iRT = t1</text>
</g>
<rect x="635.20" y="289.32" width="2.15" height="2.15" fill="#000"/>
<rect x="640.92" y="289.32" width="2.15" height="2.15" fill="#000"/>
<rect x="646.65" y="289.32" width="2.15" height="2.15" fill="#000"/>
<text x="618.20" y="307.00" font-size="11.1" text-anchor="middle" fill="#000" >Predicted DDA library</text>
<text x="0.30" y="361.30" font-size="16" text-anchor="start" fill="#000" >b</text>
<rect x="9.4" y="367.6" width="220.9" height="295.1" fill="#fff" stroke="#111" stroke-width="0.85"/>
<path d="M33.30,385.35 A16.2,8.65 0 0 1 65.70,385.35 V390.85 A16.2,8.65 0 0 1 33.30,390.85 Z" fill="#fff" stroke="none"/>
<path d="M33.30,386.95 A16.2,4.75 0 0 1 65.70,386.95 V390.85 A16.2,8.65 0 0 1 33.30,390.85 Z" fill="#be0565" stroke="#000" stroke-width="0.75"/>
<ellipse cx="49.50" cy="385.35" rx="16.2" ry="8.65" fill="none" stroke="#000" stroke-width="0.75"/>
<text x="14.70" y="415.10" font-size="11.1" text-anchor="start" fill="#000" >U2OS cell line</text>
<line x1="90.00" y1="385.00" x2="112.86" y2="385.00" stroke="#000" stroke-width="0.8"/>
<polygon points="116.50,385.00 111.30,387.30 112.76,385.00 111.30,382.70" fill="#000"/>
<line x1="90.00" y1="402.40" x2="112.86" y2="402.40" stroke="#000" stroke-width="0.8"/>
<polygon points="116.50,402.40 111.30,404.70 112.76,402.40 111.30,400.10" fill="#000"/>
<text x="124.40" y="388.90" font-size="11.1" text-anchor="start" fill="#000" >DIA: 2 cond × 10 rep</text>
<text x="124.40" y="406.80" font-size="11.1" text-anchor="start" fill="#000" >DDA: 20 runs</text>
<text x="14.70" y="450.90" font-size="11.1" text-anchor="start" fill="#000" >Lib 1</text>
<rect x="43.5" y="438.50" width="49.8" height="18.0" fill="#f8f0f4" stroke="#bf7b89" stroke-width="0.8" stroke-dasharray="3.1 1.9"/>
<text x="68.45" y="450.90" font-size="11.1" text-anchor="middle" fill="#000" >DDA</text>
<text x="14.70" y="477.85" font-size="11.1" text-anchor="start" fill="#000" >Lib 2</text>
<rect x="43.5" y="465.50" width="50.00" height="18.0" fill="#f1fbff" stroke="#5fa6e8" stroke-width="1.0"/>
<text x="68.45" y="477.85" font-size="11.1" text-anchor="middle" fill="#000" >predDDA</text>
<text x="14.70" y="504.80" font-size="11.1" text-anchor="start" fill="#000" >Lib 3</text>
<rect x="43.5" y="492.50" width="49.8" height="18.0" fill="#f8f0f4" stroke="#bf7b89" stroke-width="0.8" stroke-dasharray="3.1 1.9"/>
<text x="68.45" y="504.80" font-size="11.1" text-anchor="middle" fill="#000" >dDIA</text>
<rect x="96.5" y="492.50" width="75.00" height="18.0" fill="#f1fbff" stroke="#5fa6e8" stroke-width="1.0"/>
<text x="134.25" y="504.80" font-size="11.1" text-anchor="middle" fill="#000" >predDDA</text>
<text x="14.70" y="531.75" font-size="11.1" text-anchor="start" fill="#000" >Lib 4</text>
<rect x="43.5" y="519.50" width="49.8" height="18.0" fill="#f8f0f4" stroke="#bf7b89" stroke-width="0.8" stroke-dasharray="3.1 1.9"/>
<text x="68.45" y="531.75" font-size="11.1" text-anchor="middle" fill="#000" >dDIA</text>
<rect x="96.5" y="519.50" width="75.00" height="18.0" fill="#e5e6fa" stroke="#a5a6e2" stroke-width="1.0"/>
<text x="134.25" y="531.75" font-size="11.1" text-anchor="middle" fill="#000" >hPhosPepDB</text>
<text x="14.70" y="558.70" font-size="11.1" text-anchor="start" fill="#000" >Lib 5</text>
<rect x="43.5" y="546.50" width="49.8" height="18.0" fill="#f8f0f4" stroke="#bf7b89" stroke-width="0.8" stroke-dasharray="3.1 1.9"/>
<text x="68.45" y="558.70" font-size="11.1" text-anchor="middle" fill="#000" >dDIA</text>
<rect x="96.5" y="546.50" width="75.00" height="18.0" fill="#e5e6fa" stroke="#a5a6e2" stroke-width="1.0"/>
<text x="134.25" y="558.70" font-size="11.1" text-anchor="middle" fill="#000" >hPhosSiteDB</text>
<text x="14.70" y="585.65" font-size="11.1" text-anchor="start" fill="#000" >Lib 6</text>
<rect x="43.5" y="573.50" width="50.00" height="18.0" fill="#f1fbff" stroke="#5fa6e8" stroke-width="1.0"/>
<text x="68.45" y="585.65" font-size="11.1" text-anchor="middle" fill="#000" >predDIA</text>
<rect x="96.5" y="573.50" width="75.00" height="18.0" fill="#f1fbff" stroke="#5fa6e8" stroke-width="1.0"/>
<text x="134.25" y="585.65" font-size="11.1" text-anchor="middle" fill="#000" >predDDA</text>
<text x="14.70" y="612.60" font-size="11.1" text-anchor="start" fill="#000" >Lib 7</text>
<rect x="43.5" y="600.50" width="50.00" height="18.0" fill="#f1fbff" stroke="#5fa6e8" stroke-width="1.0"/>
<text x="68.45" y="612.60" font-size="11.1" text-anchor="middle" fill="#000" >predDIA</text>
<rect x="96.5" y="600.50" width="75.00" height="18.0" fill="#e5e6fa" stroke="#a5a6e2" stroke-width="1.0"/>
<text x="134.25" y="612.60" font-size="11.1" text-anchor="middle" fill="#000" >hPhosPepDB</text>
<polyline points="179.0,473.6 180.9,500.5 199.4,527.6 210.2,554.8 181.1,582.0 199.0,609.0" fill="none" stroke="#4169e1" stroke-width="1.2"/>
<circle cx="179.0" cy="473.6" r="4.4" fill="#4169e1"/>
<circle cx="180.9" cy="500.5" r="4.4" fill="#4169e1"/>
<circle cx="199.4" cy="527.6" r="4.4" fill="#4169e1"/>
<circle cx="210.2" cy="554.8" r="4.4" fill="#4169e1"/>
<circle cx="181.1" cy="582.0" r="4.4" fill="#4169e1"/>
<circle cx="199.0" cy="609.0" r="4.4" fill="#4169e1"/>
<circle cx="178.9" cy="446.8" r="3.8" fill="#fff" stroke="#6a4fd0" stroke-width="2.0"/>
<path d="M170.6,627.7 H217.9 M183.6,627.7 V632.1 M209.5,627.7 V632.1" fill="none" stroke="#000" stroke-width="1"/>
<text x="183.60" y="645.00" font-size="11.1" text-anchor="middle" fill="#000" >5</text>
<text x="209.50" y="645.00" font-size="11.1" text-anchor="middle" fill="#000" >6</text>
<text x="194.10" y="654.80" font-size="8.9" text-anchor="middle" fill="#000" >Size (log10)</text>
<text x="245.60" y="361.10" font-size="16" text-anchor="start" fill="#000" >c</text>
<rect x="300.2" y="374.1" width="14.5" height="6.8" fill="#8c8c8c"/>
<text x="319.70" y="381.10" font-size="9.9" text-anchor="start" fill="#000" >Loss</text>
<rect x="352.6" y="374.1" width="14.5" height="6.8" fill="#f2d06e"/>
<text x="372.40" y="381.10" font-size="9.9" text-anchor="start" fill="#000" >Gap</text>
<rect x="402.5" y="374.1" width="14.5" height="6.8" fill="#6189bd"/>
<text x="422.40" y="381.10" font-size="9.9" text-anchor="start" fill="#000" >Shared</text>
<rect x="465.8" y="374.1" width="14.5" height="6.8" fill="#e23338"/>
<text x="485.70" y="381.10" font-size="9.9" text-anchor="start" fill="#000" >Gain</text>
<text x="255.60" y="403.30" font-size="9.9" text-anchor="start" fill="#000" >Lib 1</text>
<text x="255.60" y="419.05" font-size="9.9" text-anchor="start" fill="#000" >Lib 2</text>
<text x="255.60" y="434.80" font-size="9.9" text-anchor="start" fill="#000" >Lib 3</text>
<text x="255.60" y="450.55" font-size="9.9" text-anchor="start" fill="#000" >Lib 4</text>
<text x="255.60" y="466.30" font-size="9.9" text-anchor="start" fill="#000" >Lib 5</text>
<text x="255.60" y="482.05" font-size="9.9" text-anchor="start" fill="#000" >Lib 6</text>
<text x="255.60" y="497.80" font-size="9.9" text-anchor="start" fill="#000" >Lib 7</text>
<rect x="299.60" y="395.00" width="74.90" height="11.8" fill="#6189bd"/>
<text x="395.90" y="403.30" font-size="9.9" text-anchor="start" fill="#000" >25,814 (100.00%)</text>
<rect x="294.90" y="410.75" width="4.70" height="11.8" fill="#8c8c8c"/>
<rect x="299.60" y="410.75" width="70.00" height="11.8" fill="#6189bd"/>
<rect x="369.60" y="410.75" width="5.20" height="11.8" fill="#e23338"/>
<text x="395.90" y="419.05" font-size="9.9" text-anchor="start" fill="#000" >25,858 (100.17%)</text>
<rect x="293.20" y="426.50" width="6.40" height="11.8" fill="#8c8c8c"/>
<rect x="299.60" y="426.50" width="68.40" height="11.8" fill="#6189bd"/>
<rect x="368.00" y="426.50" width="20.50" height="11.8" fill="#e23338"/>
<text x="395.90" y="434.80" font-size="9.9" text-anchor="start" fill="#000" >30,629 (118.65%)</text>
<rect x="286.30" y="442.25" width="7.50" height="11.8" fill="#8c8c8c"/>
<rect x="293.80" y="442.25" width="5.80" height="11.8" fill="#f2d06e"/>
<rect x="299.60" y="442.25" width="61.40" height="11.8" fill="#6189bd"/>
<rect x="361.00" y="442.25" width="30.80" height="11.8" fill="#e23338"/>
<text x="395.90" y="450.55" font-size="9.9" text-anchor="start" fill="#000" >31,736 (122.94%)</text>
<rect x="279.40" y="458.00" width="11.20" height="11.8" fill="#8c8c8c"/>
<rect x="290.60" y="458.00" width="9.00" height="11.8" fill="#f2d06e"/>
<rect x="299.60" y="458.00" width="54.60" height="11.8" fill="#6189bd"/>
<rect x="354.20" y="458.00" width="20.40" height="11.8" fill="#e23338"/>
<text x="395.90" y="466.30" font-size="9.9" text-anchor="start" fill="#000" >25,636 (99.31%)</text>
<rect x="294.90" y="473.75" width="4.70" height="11.8" fill="#8c8c8c"/>
<rect x="299.60" y="473.75" width="70.00" height="11.8" fill="#6189bd"/>
<rect x="369.60" y="473.75" width="18.60" height="11.8" fill="#e23338"/>
<text x="395.90" y="482.05" font-size="9.9" text-anchor="start" fill="#000" >30,552 (118.35%)</text>
<rect x="287.30" y="489.50" width="6.50" height="11.8" fill="#8c8c8c"/>
<rect x="293.80" y="489.50" width="5.80" height="11.8" fill="#f2d06e"/>
<rect x="299.60" y="489.50" width="62.40" height="11.8" fill="#6189bd"/>
<rect x="362.00" y="489.50" width="31.70" height="11.8" fill="#e23338"/>
<text x="395.90" y="497.80" font-size="9.9" text-anchor="start" fill="#000" >32,511 (125.94%)</text>
<line x1="299.6" y1="392.8" x2="299.6" y2="508.9" stroke="#000" stroke-width="0.9"/>
<line x1="374.5" y1="392.8" x2="374.5" y2="508.9" stroke="#000" stroke-width="1.2" stroke-dasharray="3.3 1.5"/>
<line x1="279.2" y1="508.9" x2="400.2" y2="508.9" stroke="#000" stroke-width="0.9"/>
<line x1="299.60" y1="508.9" x2="299.60" y2="512.6" stroke="#000" stroke-width="0.9"/>
<text x="299.60" y="525.60" font-size="9.9" text-anchor="middle" fill="#000" >0</text>
<line x1="337.05" y1="508.9" x2="337.05" y2="512.6" stroke="#000" stroke-width="0.9"/>
<text x="337.05" y="525.60" font-size="9.9" text-anchor="middle" fill="#000" >50</text>
<line x1="374.50" y1="508.9" x2="374.50" y2="512.6" stroke="#000" stroke-width="0.9"/>
<text x="374.50" y="525.60" font-size="9.9" text-anchor="middle" fill="#000" >100</text>
<text x="337.40" y="536.50" font-size="9.9" text-anchor="middle" fill="#000" >Total phosphopeptides (%)</text>
<rect x="510.10" y="395.00" width="74.90" height="11.8" fill="#6189bd"/>
<text x="606.90" y="403.30" font-size="9.9" text-anchor="start" fill="#000" >21,400 (100.00%)</text>
<rect x="505.10" y="410.75" width="5.00" height="11.8" fill="#8c8c8c"/>
<rect x="510.10" y="410.75" width="69.90" height="11.8" fill="#6189bd"/>
<rect x="580.00" y="410.75" width="5.60" height="11.8" fill="#e23338"/>
<text x="606.90" y="419.05" font-size="9.9" text-anchor="start" fill="#000" >21,273 (99.41%)</text>
<rect x="501.90" y="426.50" width="8.20" height="11.8" fill="#8c8c8c"/>
<rect x="510.10" y="426.50" width="66.60" height="11.8" fill="#6189bd"/>
<rect x="576.70" y="426.50" width="20.90" height="11.8" fill="#e23338"/>
<text x="606.90" y="434.80" font-size="9.9" text-anchor="start" fill="#000" >25,089 (117.24%)</text>
<rect x="494.50" y="442.25" width="11.60" height="11.8" fill="#8c8c8c"/>
<rect x="506.10" y="442.25" width="4.00" height="11.8" fill="#f2d06e"/>
<rect x="510.10" y="442.25" width="59.30" height="11.8" fill="#6189bd"/>
<rect x="569.40" y="442.25" width="31.10" height="11.8" fill="#e23338"/>
<text x="606.90" y="450.55" font-size="9.9" text-anchor="start" fill="#000" >25,880 (120.93%)</text>
<rect x="488.10" y="458.00" width="18.60" height="11.8" fill="#8c8c8c"/>
<rect x="506.70" y="458.00" width="3.40" height="11.8" fill="#f2d06e"/>
<rect x="510.10" y="458.00" width="52.80" height="11.8" fill="#6189bd"/>
<rect x="562.90" y="458.00" width="23.50" height="11.8" fill="#e23338"/>
<text x="606.90" y="466.30" font-size="9.9" text-anchor="start" fill="#000" >21,831 (102.01%)</text>
<rect x="503.50" y="473.75" width="6.60" height="11.8" fill="#8c8c8c"/>
<rect x="510.10" y="473.75" width="68.30" height="11.8" fill="#6189bd"/>
<rect x="578.40" y="473.75" width="18.90" height="11.8" fill="#e23338"/>
<text x="606.90" y="482.05" font-size="9.9" text-anchor="start" fill="#000" >24,954 (116.61%)</text>
<rect x="495.50" y="489.50" width="10.60" height="11.8" fill="#8c8c8c"/>
<rect x="506.10" y="489.50" width="4.00" height="11.8" fill="#f2d06e"/>
<rect x="510.10" y="489.50" width="59.90" height="11.8" fill="#6189bd"/>
<rect x="570.00" y="489.50" width="32.10" height="11.8" fill="#e23338"/>
<text x="606.90" y="497.80" font-size="9.9" text-anchor="start" fill="#000" >26,353 (123.14%)</text>
<line x1="510.1" y1="392.8" x2="510.1" y2="508.9" stroke="#000" stroke-width="0.9"/>
<line x1="585.0" y1="392.8" x2="585.0" y2="508.9" stroke="#000" stroke-width="1.2" stroke-dasharray="3.3 1.5"/>
<line x1="488.1" y1="508.9" x2="608.8" y2="508.9" stroke="#000" stroke-width="0.9"/>
<line x1="510.10" y1="508.9" x2="510.10" y2="512.6" stroke="#000" stroke-width="0.9"/>
<text x="510.10" y="525.60" font-size="9.9" text-anchor="middle" fill="#000" >0</text>
<line x1="547.55" y1="508.9" x2="547.55" y2="512.6" stroke="#000" stroke-width="0.9"/>
<text x="547.55" y="525.60" font-size="9.9" text-anchor="middle" fill="#000" >50</text>
<line x1="585.00" y1="508.9" x2="585.00" y2="512.6" stroke="#000" stroke-width="0.9"/>
<text x="585.00" y="525.60" font-size="9.9" text-anchor="middle" fill="#000" >100</text>
<text x="538.30" y="536.50" font-size="9.9" text-anchor="middle" fill="#000" >Total phosphosites (%)</text>
<text x="245.70" y="562.90" font-size="16" text-anchor="start" fill="#000" >d</text>
<rect x="298.90" y="603.93" width="24.60" height="32.37" fill="#0a79b0" stroke="#0d2f42" stroke-width="0.85"/>
<text transform="translate(302.90,590.40) rotate(-30)" font-size="11.3" fill="#000">0.55</text>
<rect x="331.90" y="598.69" width="24.60" height="37.61" fill="#0a79b0" stroke="#0d2f42" stroke-width="0.85"/>
<text transform="translate(335.90,590.40) rotate(-30)" font-size="11.3" fill="#000">0.64</text>
<rect x="365.20" y="612.10" width="24.60" height="24.20" fill="#0a79b0" stroke="#0d2f42" stroke-width="0.85"/>
<text transform="translate(369.20,590.40) rotate(-30)" font-size="11.3" fill="#000">0.41</text>
<rect x="398.40" y="612.68" width="24.60" height="23.62" fill="#0a79b0" stroke="#0d2f42" stroke-width="0.85"/>
<text transform="translate(402.40,590.40) rotate(-30)" font-size="11.3" fill="#000">0.40</text>
<rect x="292.4" y="566.5" width="137.40" height="69.80" fill="none" stroke="#000" stroke-width="1"/>
<line x1="287.59999999999997" y1="636.30" x2="292.4" y2="636.30" stroke="#000" stroke-width="1"/>
<text x="282.70" y="639.80" font-size="9.9" text-anchor="end" fill="#000" >0</text>
<line x1="287.59999999999997" y1="607.15" x2="292.4" y2="607.15" stroke="#000" stroke-width="1"/>
<text x="282.70" y="610.65" font-size="9.9" text-anchor="end" fill="#000" >0.5</text>
<line x1="287.59999999999997" y1="578.00" x2="292.4" y2="578.00" stroke="#000" stroke-width="1"/>
<text x="282.70" y="581.50" font-size="9.9" text-anchor="end" fill="#000" >1</text>
<line x1="311.2" y1="636.3" x2="311.2" y2="640.6999999999999" stroke="#000" stroke-width="1"/>
<text x="311.20" y="652.60" font-size="9.9" text-anchor="middle" fill="#000" >Lib 1</text>
<line x1="344.2" y1="636.3" x2="344.2" y2="640.6999999999999" stroke="#000" stroke-width="1"/>
<text x="344.20" y="652.60" font-size="9.9" text-anchor="middle" fill="#000" >Lib 2</text>
<line x1="377.5" y1="636.3" x2="377.5" y2="640.6999999999999" stroke="#000" stroke-width="1"/>
<text x="377.50" y="652.60" font-size="9.9" text-anchor="middle" fill="#000" >Lib 6</text>
<line x1="410.7" y1="636.3" x2="410.7" y2="640.6999999999999" stroke="#000" stroke-width="1"/>
<text x="410.70" y="652.60" font-size="9.9" text-anchor="middle" fill="#000" >Lib 7</text>
<text transform="translate(265.8,601.6) rotate(-90)" font-size="9.9" text-anchor="middle" fill="#000">FDR (%)</text>
<text x="442.40" y="562.50" font-size="16" text-anchor="start" fill="#000" >e</text>
<path d="M501.50,593.60 V627.60 M498.50,593.60 H504.50 M498.50,627.60 H504.50" stroke="#000" stroke-width="1.15" fill="none"/>
<rect x="496.40" y="607.40" width="10.2" height="10.20" fill="#4f74a7" stroke="#1b5d96" stroke-width="1.1"/>
<line x1="496.40" y1="613.30" x2="506.60" y2="613.30" stroke="#1b5d96" stroke-width="0.9"/>
<path d="M512.50,594.60 V628.00 M509.50,594.60 H515.50 M509.50,628.00 H515.50" stroke="#000" stroke-width="1.15" fill="none"/>
<rect x="507.40" y="609.10" width="10.2" height="9.90" fill="#a31306" stroke="#a31306" stroke-width="1.1"/>
<line x1="507.40" y1="614.50" x2="517.60" y2="614.50" stroke="#6d0b03" stroke-width="0.9"/>
<line x1="506.60" y1="636.5" x2="506.60" y2="640.9" stroke="#000" stroke-width="1"/>
<text x="506.60" y="653.00" font-size="9.9" text-anchor="middle" fill="#000" >Lib 1</text>
<path d="M526.50,592.10 V627.60 M523.50,592.10 H529.50 M523.50,627.60 H529.50" stroke="#000" stroke-width="1.15" fill="none"/>
<rect x="521.40" y="606.60" width="10.2" height="10.20" fill="#4f74a7" stroke="#1b5d96" stroke-width="1.1"/>
<line x1="521.40" y1="611.80" x2="531.60" y2="611.80" stroke="#1b5d96" stroke-width="0.9"/>
<path d="M537.50,593.90 V628.00 M534.50,593.90 H540.50 M534.50,628.00 H540.50" stroke="#000" stroke-width="1.15" fill="none"/>
<rect x="532.40" y="608.40" width="10.2" height="10.20" fill="#a31306" stroke="#a31306" stroke-width="1.1"/>
<line x1="532.40" y1="614.00" x2="542.60" y2="614.00" stroke="#6d0b03" stroke-width="0.9"/>
<line x1="531.68" y1="636.5" x2="531.68" y2="640.9" stroke="#000" stroke-width="1"/>
<text x="531.68" y="653.00" font-size="9.9" text-anchor="middle" fill="#000" >Lib 2</text>
<path d="M551.50,590.70 V627.60 M548.50,590.70 H554.50 M548.50,627.60 H554.50" stroke="#000" stroke-width="1.15" fill="none"/>
<rect x="546.40" y="605.70" width="10.2" height="10.70" fill="#4f74a7" stroke="#1b5d96" stroke-width="1.1"/>
<line x1="546.40" y1="611.10" x2="556.60" y2="611.10" stroke="#1b5d96" stroke-width="0.9"/>
<path d="M562.50,592.40 V628.00 M559.50,592.40 H565.50 M559.50,628.00 H565.50" stroke="#000" stroke-width="1.15" fill="none"/>
<rect x="557.40" y="607.60" width="10.2" height="10.30" fill="#a31306" stroke="#a31306" stroke-width="1.1"/>
<line x1="557.40" y1="613.70" x2="567.60" y2="613.70" stroke="#6d0b03" stroke-width="0.9"/>
<line x1="556.76" y1="636.5" x2="556.76" y2="640.9" stroke="#000" stroke-width="1"/>
<text x="556.76" y="653.00" font-size="9.9" text-anchor="middle" fill="#000" >Lib 3</text>
<path d="M576.50,593.40 V627.60 M573.50,593.40 H579.50 M573.50,627.60 H579.50" stroke="#000" stroke-width="1.15" fill="none"/>
<rect x="571.40" y="607.40" width="10.2" height="9.40" fill="#4f74a7" stroke="#1b5d96" stroke-width="1.1"/>
<line x1="571.40" y1="612.10" x2="581.60" y2="612.10" stroke="#1b5d96" stroke-width="0.9"/>
<path d="M587.50,596.00 V628.00 M584.50,596.00 H590.50 M584.50,628.00 H590.50" stroke="#000" stroke-width="1.15" fill="none"/>
<rect x="582.40" y="609.60" width="10.2" height="9.30" fill="#a31306" stroke="#a31306" stroke-width="1.1"/>
<line x1="582.40" y1="614.60" x2="592.60" y2="614.60" stroke="#6d0b03" stroke-width="0.9"/>
<line x1="581.84" y1="636.5" x2="581.84" y2="640.9" stroke="#000" stroke-width="1"/>
<text x="581.84" y="653.00" font-size="9.9" text-anchor="middle" fill="#000" >Lib 4</text>
<path d="M601.50,595.20 V627.60 M598.50,595.20 H604.50 M598.50,627.60 H604.50" stroke="#000" stroke-width="1.15" fill="none"/>
<rect x="596.40" y="608.20" width="10.2" height="9.20" fill="#4f74a7" stroke="#1b5d96" stroke-width="1.1"/>
<line x1="596.40" y1="612.90" x2="606.60" y2="612.90" stroke="#1b5d96" stroke-width="0.9"/>
<path d="M612.50,597.70 V628.00 M609.50,597.70 H615.50 M609.50,628.00 H615.50" stroke="#000" stroke-width="1.15" fill="none"/>
<rect x="607.40" y="610.80" width="10.2" height="9.20" fill="#a31306" stroke="#a31306" stroke-width="1.1"/>
<line x1="607.40" y1="615.60" x2="617.60" y2="615.60" stroke="#6d0b03" stroke-width="0.9"/>
<line x1="606.92" y1="636.5" x2="606.92" y2="640.9" stroke="#000" stroke-width="1"/>
<text x="606.92" y="653.00" font-size="9.9" text-anchor="middle" fill="#000" >Lib 5</text>
<path d="M626.50,591.40 V627.60 M623.50,591.40 H629.50 M623.50,627.60 H629.50" stroke="#000" stroke-width="1.15" fill="none"/>
<rect x="621.40" y="606.00" width="10.2" height="10.00" fill="#4f74a7" stroke="#1b5d96" stroke-width="1.1"/>
<line x1="621.40" y1="611.20" x2="631.60" y2="611.20" stroke="#1b5d96" stroke-width="0.9"/>
<path d="M637.50,592.80 V628.00 M634.50,592.80 H640.50 M634.50,628.00 H640.50" stroke="#000" stroke-width="1.15" fill="none"/>
<rect x="632.40" y="608.50" width="10.2" height="9.70" fill="#a31306" stroke="#a31306" stroke-width="1.1"/>
<line x1="632.40" y1="613.90" x2="642.60" y2="613.90" stroke="#6d0b03" stroke-width="0.9"/>
<line x1="632.00" y1="636.5" x2="632.00" y2="640.9" stroke="#000" stroke-width="1"/>
<text x="632.00" y="653.00" font-size="9.9" text-anchor="middle" fill="#000" >Lib 6</text>
<path d="M651.50,593.30 V627.60 M648.50,593.30 H654.50 M648.50,627.60 H654.50" stroke="#000" stroke-width="1.15" fill="none"/>
<rect x="646.40" y="607.40" width="10.2" height="9.40" fill="#4f74a7" stroke="#1b5d96" stroke-width="1.1"/>
<line x1="646.40" y1="612.20" x2="656.60" y2="612.20" stroke="#1b5d96" stroke-width="0.9"/>
<path d="M662.50,595.40 V628.00 M659.50,595.40 H665.50 M659.50,628.00 H665.50" stroke="#000" stroke-width="1.15" fill="none"/>
<rect x="657.40" y="609.60" width="10.2" height="9.40" fill="#a31306" stroke="#a31306" stroke-width="1.1"/>
<line x1="657.40" y1="614.80" x2="667.60" y2="614.80" stroke="#6d0b03" stroke-width="0.9"/>
<line x1="657.08" y1="636.5" x2="657.08" y2="640.9" stroke="#000" stroke-width="1"/>
<text x="657.08" y="653.00" font-size="9.9" text-anchor="middle" fill="#000" >Lib 7</text>
<rect x="488.7" y="566.5" width="185.70" height="70.00" fill="none" stroke="#000" stroke-width="1"/>
<line x1="483.9" y1="628.20" x2="488.7" y2="628.20" stroke="#000" stroke-width="1"/>
<text x="479.40" y="631.50" font-size="9.9" text-anchor="end" fill="#000" >0</text>
<line x1="483.9" y1="611.82" x2="488.7" y2="611.82" stroke="#000" stroke-width="1"/>
<text x="479.40" y="615.12" font-size="9.9" text-anchor="end" fill="#000" >20</text>
<line x1="483.9" y1="587.25" x2="488.7" y2="587.25" stroke="#000" stroke-width="1"/>
<text x="479.40" y="590.55" font-size="9.9" text-anchor="end" fill="#000" >50</text>
<text transform="translate(464.0,601.9) rotate(-90)" font-size="9.9" text-anchor="middle" fill="#000">CV (%)</text>
<rect x="549.4" y="575.5" width="14.8" height="6.9" fill="#4f74a7" stroke="#1b5d96" stroke-width="1.0"/>
<text x="568.70" y="582.40" font-size="9.9" text-anchor="start" fill="#000" >Cond 1</text>
<rect x="615.5" y="575.5" width="14.8" height="6.9" fill="#a31306" stroke="#a31306" stroke-width="1.0"/>
<text x="634.80" y="582.40" font-size="9.9" text-anchor="start" fill="#000" >Cond 2</text>
</svg></body></html>
